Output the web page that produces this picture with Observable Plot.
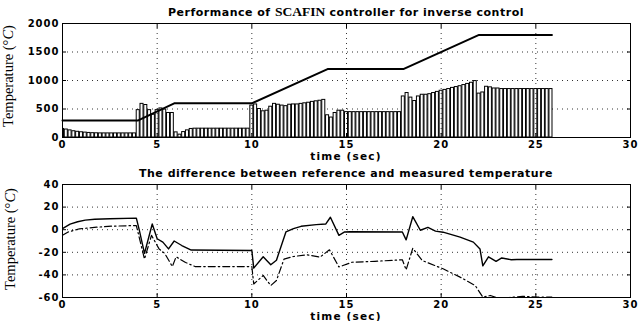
<!DOCTYPE html>
<html>
<head>
<meta charset="utf-8">
<script src="https://cdn.jsdelivr.net/npm/d3@7"></script>
<script src="https://cdn.jsdelivr.net/npm/@observablehq/plot@0.6"></script>
<style>
  body { margin: 0; background: #fff; }
  #chart svg { display: block; }
</style>
</head>
<body>
<div id="chart"></div>
<script>
// Tick positions
const timeTicks = [0, 5, 10, 15, 20, 25, 30];
const tempTicks = [0, 500, 1000, 1500, 2000];
const diffTicks = [-60, -40, -20, 0, 20, 40];

// Measured furnace temperature, one bar per 0.2 s sample
const sampleStep = 0.2;
const measuredTemp = [
  150, 140, 125, 110, 100, 92, 86, 80, 76, 74, 72, 72, 72, 72, 72, 72, 72, 72, 72, 72,
  480, 590, 570, 480, 400, 480, 510, 490, 430, 430,
  90, 50, 95, 125, 150,
  155, 155, 155, 155, 155, 155, 155, 155, 155, 155, 155, 155, 155, 155, 155,
  560, 580, 500, 460, 470, 540, 590, 575, 560, 550, 575, 580, 580, 590, 600, 610, 625, 635, 645, 660,
  390, 350, 430, 470, 470, 445, 445, 445, 445, 445, 445, 445, 445, 445, 445, 445, 445, 445, 445, 445,
  720, 780, 700, 640, 720, 750, 750, 760, 780, 800, 820, 835, 850, 870, 885, 900, 920, 940, 960, 990,
  770, 790, 890, 880, 860, 860, 850, 850, 850, 850, 850, 850, 850, 850, 850, 850, 850, 850, 850, 850
];

// Reference temperature profile
const refTime = [0, 4, 5.9, 10, 14, 18, 22, 25.85];
const refTemp = [300, 300, 600, 600, 1200, 1200, 1800, 1800];

// Difference between reference and measured temperature (solid curve)
const solidTime = [0, 0.4, 0.8, 1.2, 1.7, 2.5, 3.9, 4.05, 4.33, 4.74, 5.0, 5.3, 5.6, 5.9, 6.3, 6.8, 10.0, 10.1, 10.6, 11.0, 11.3, 11.8, 12.2, 12.6, 13.4, 13.9, 14.15, 14.6, 14.9, 15.2, 17.95, 18.15, 18.5, 18.9, 19.3, 19.7, 20.1, 21.0, 21.7, 22.05, 22.2, 22.5, 22.9, 23.2, 23.7, 24.0, 25.85];
const solidDiff = [1, 5, 7, 8.5, 9.3, 9.7, 10.2, 0, -21, 5, -8, -11, -17, -10, -14, -18, -18.4, -34, -24, -31, -27, -2, 1, 3, 4.5, 5, 11, -5, -2, -1.8, -2, -9, 11.5, -0.5, 2, -1.3, -2.2, -6.6, -11, -17, -32, -24, -28, -25, -26.6, -26.4, -26.4];

// Second difference curve (dash-dot)
const dashTime = [0, 0.3, 0.9, 1.8, 2.6, 3.9, 4.33, 4.7, 5.1, 5.4, 5.8, 6.0, 6.5, 7.0, 10.0, 10.1, 10.6, 11.0, 11.3, 11.7, 12.2, 12.9, 13.6, 14.1, 14.6, 15.3, 16.5, 17.95, 18.15, 18.5, 19.0, 20.1, 21.0, 21.8, 22.2, 22.6, 22.9, 23.6, 24.3, 25.1, 25.85];
const dashDiff = [-5, -2, 0.8, 2.2, 3.1, 3.7, -26, -5, -17, -21, -32.6, -24, -29, -32.6, -32.6, -48, -40.5, -49.4, -45, -26, -23.7, -22.2, -24.3, -17.8, -33, -28.8, -28, -26.6, -35.5, -16.4, -27.3, -34.6, -42, -49.4, -59.7, -58.2, -60, -60, -59, -59.7, -59.7];

const bars = measuredTemp.map((v, i) => ({t: i * sampleStep, v}));
const refLine = refTime.map((t, i) => ({t, v: refTemp[i]}));
const solidLine = solidTime.map((t, i) => ({t, v: solidDiff[i]}));
const dashLine = dashTime.map((t, i) => ({t, v: dashDiff[i]}));

const W = 642, ML = 62, MR = 12;
const tickFont = "DejaVu Sans";

function frameAxes(yTicks) {
  return [
    Plot.axisX({anchor: "bottom", ticks: timeTicks, tickSize: -4, tickPadding: 7, tickFormat: d => String(d), label: null, fontWeight: "bold"}),
    Plot.axisX({anchor: "top", ticks: timeTicks, tickSize: -4, tickFormat: () => "", label: null}),
    Plot.axisY({anchor: "left", ticks: yTicks, tickSize: -4, tickPadding: 7, tickFormat: d => String(d), label: null, fontWeight: "bold"}),
    Plot.axisY({anchor: "right", ticks: yTicks, tickSize: -4, tickFormat: () => "", label: null}),
    Plot.frame({stroke: "black", strokeWidth: 1})
  ];
}

const gridStyle = {stroke: "black", strokeWidth: 1, strokeDasharray: "1,4", strokeOpacity: 0.8};
const plotStyle = {fontFamily: tickFont, fontSize: "10px", letterSpacing: "1px", color: "black", overflow: "visible", background: "none"};

const tempPlot = Plot.plot({
  width: W, height: 160,
  marginTop: 23, marginBottom: 23, marginLeft: ML, marginRight: MR,
  style: plotStyle,
  x: {domain: [0, 30]},
  y: {domain: [0, 2000]},
  marks: [
    Plot.ruleY([500, 1000, 1500], gridStyle),
    Plot.rectY(bars, {x1: d => d.t - 0.08, x2: d => d.t + 0.08, y1: 0, y2: "v", fill: "white", stroke: "black", strokeWidth: 1, clip: true}),
    Plot.ruleX([5, 10, 15, 20, 25], gridStyle),
    Plot.line(refLine, {x: "t", y: "v", stroke: "black", strokeWidth: 2}),
    ...frameAxes(tempTicks)
  ]
});

const diffPlot = Plot.plot({
  width: W, height: 161,
  marginTop: 24, marginBottom: 24, marginLeft: ML, marginRight: MR,
  style: plotStyle,
  x: {domain: [0, 30]},
  y: {domain: [-60, 40]},
  marks: [
    Plot.ruleY([-40, -20, 0, 20], gridStyle),
    Plot.ruleX([5, 10, 15, 20, 25], gridStyle),
    Plot.line(dashLine, {x: "t", y: "v", stroke: "black", strokeWidth: 1.2, strokeDasharray: "7,3,1.5,3", clip: true}),
    Plot.line(solidLine, {x: "t", y: "v", stroke: "black", strokeWidth: 1.4, clip: true}),
    ...frameAxes(diffTicks)
  ]
});

// Titles, axis labels
function decorate(svg, titleParts, titleY, xLabelY, yLabelX, yLabelY) {
  const s = d3.select(svg);
  const cx = ML + (W - ML - MR) / 2;
  const t = s.append("text")
    .attr("x", cx).attr("y", titleY)
    .attr("text-anchor", "middle")
    .attr("fill", "black");
  for (const p of titleParts) {
    t.append("tspan")
      .attr("font-family", p.serif ? "Liberation Serif" : "DejaVu Sans")
      .attr("font-weight", "bold")
      .attr("font-size", p.serif ? "13.5px" : "11px")
      .attr("letter-spacing", p.serif ? "0px" : "0.5px")
      .text(p.text);
  }
  s.append("text")
    .attr("x", cx).attr("y", xLabelY)
    .attr("text-anchor", "middle")
    .attr("font-family", "DejaVu Sans").attr("font-weight", "bold").attr("font-size", "10.5px")
    .attr("letter-spacing", "1.2px")
    .attr("fill", "black")
    .text("time (sec)");
  const yl = s.append("text")
    .attr("transform", `translate(${yLabelX},${yLabelY}) rotate(-90)`)
    .attr("text-anchor", "middle")
    .attr("font-family", "Liberation Serif").attr("font-size", "14.5px")
    .attr("letter-spacing", "0px")
    .attr("fill", "black");
  yl.append("tspan").text("Temperature (°");
  yl.append("tspan").attr("font-style", "italic").text("C");
  yl.append("tspan").text(")");
}

decorate(tempPlot, [
  {text: "Performance of "},
  {text: "SCAFIN", serif: true},
  {text: " controller for inverse control"}
], 15.5, 159.5, 12.5, 76);

decorate(diffPlot, [
  {text: "The difference between reference and measured temperature"}
], 17, 159.5, 15, 79);

const root = document.getElementById("chart");
root.appendChild(tempPlot);
root.appendChild(diffPlot);
</script>
</body>
</html>
